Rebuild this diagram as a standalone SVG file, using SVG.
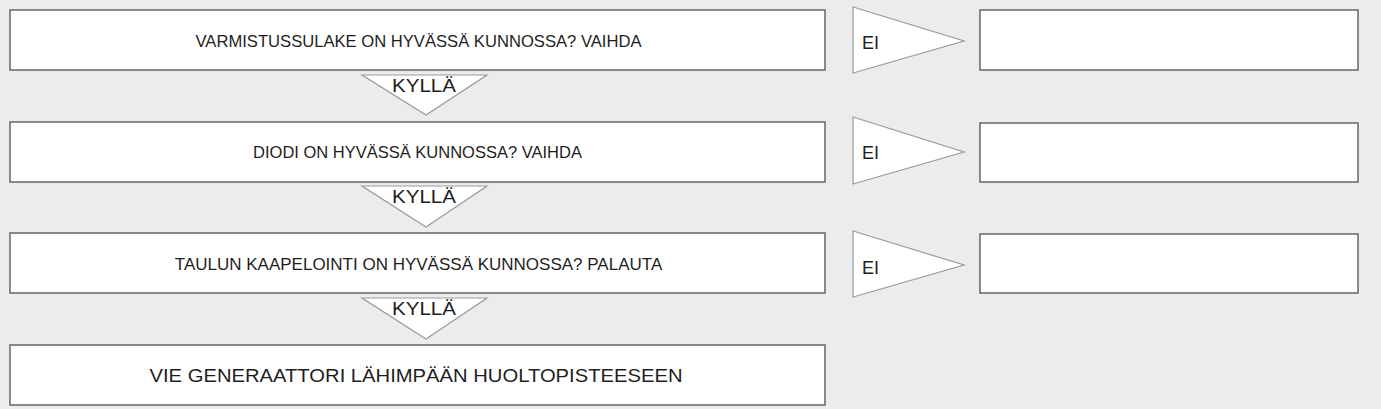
<svg xmlns="http://www.w3.org/2000/svg" width="1381" height="409" viewBox="0 0 1381 409">
<style>
.bg{fill:#ececec}
.box{fill:#fff;stroke:#6f6f6f;stroke-width:1.6}
.tri{fill:#fff;stroke:#9a9a9a;stroke-width:1.2}
.t{font-family:"Liberation Sans",Arial,Helvetica,sans-serif;font-size:17px;fill:#1e1e1e;text-anchor:middle}
.k{font-family:"Liberation Sans",Arial,Helvetica,sans-serif;font-size:17.5px;fill:#1e1e1e;text-anchor:middle}
.e{font-family:"Liberation Sans",Arial,Helvetica,sans-serif;font-size:18px;fill:#1e1e1e}
</style>
<rect class="bg" x="0" y="0" width="1381" height="409"/>
<g id="connectors">
  <g id="yes1"><polygon class="tri" points="362,75 487,75 426,115"/><text class="k" x="424" y="92" textLength="64" lengthAdjust="spacingAndGlyphs">KYLLÄ</text></g>
  <g id="yes2"><polygon class="tri" points="362,186 487,186 426,227"/><text class="k" x="424" y="203" textLength="64" lengthAdjust="spacingAndGlyphs">KYLLÄ</text></g>
  <g id="yes3"><polygon class="tri" points="362,298 487,298 426,339"/><text class="k" x="424" y="315" textLength="64" lengthAdjust="spacingAndGlyphs">KYLLÄ</text></g>
  <g id="no1"><polygon class="tri" points="853,7 964,41 853,73"/><text class="e" x="862" y="49">EI</text></g>
  <g id="no2"><polygon class="tri" points="853,117 964,152 853,184"/><text class="e" x="862" y="159">EI</text></g>
  <g id="no3"><polygon class="tri" points="853,231 964,265 853,297"/><text class="e" x="862" y="274">EI</text></g>
</g>
<g id="n1"><rect class="box" x="10" y="10" width="815" height="60"/><text class="t" x="418.5" y="47" textLength="446" lengthAdjust="spacingAndGlyphs">VARMISTUSSULAKE ON HYVÄSSÄ KUNNOSSA? VAIHDA</text></g>
<g id="n2"><rect class="box" x="10" y="122" width="815" height="60"/><text class="t" x="417.5" y="158" style="font-size:16.5px">DIODI ON HYVÄSSÄ KUNNOSSA? VAIHDA</text></g>
<g id="n3"><rect class="box" x="10" y="233" width="815" height="60"/><text class="t" x="418.5" y="270">TAULUN KAAPELOINTI ON HYVÄSSÄ KUNNOSSA? PALAUTA</text></g>
<g id="n4"><rect class="box" x="10" y="345" width="815" height="60"/><text class="t" x="416" y="382" style="font-size:17.5px" textLength="533" lengthAdjust="spacingAndGlyphs">VIE GENERAATTORI LÄHIMPÄÄN HUOLTOPISTEESEEN</text></g>
<g id="r1"><rect class="box" x="980" y="10" width="378" height="60"/></g>
<g id="r2"><rect class="box" x="980" y="123" width="378" height="59"/></g>
<g id="r3"><rect class="box" x="980" y="234" width="378" height="59"/></g>
</svg>
